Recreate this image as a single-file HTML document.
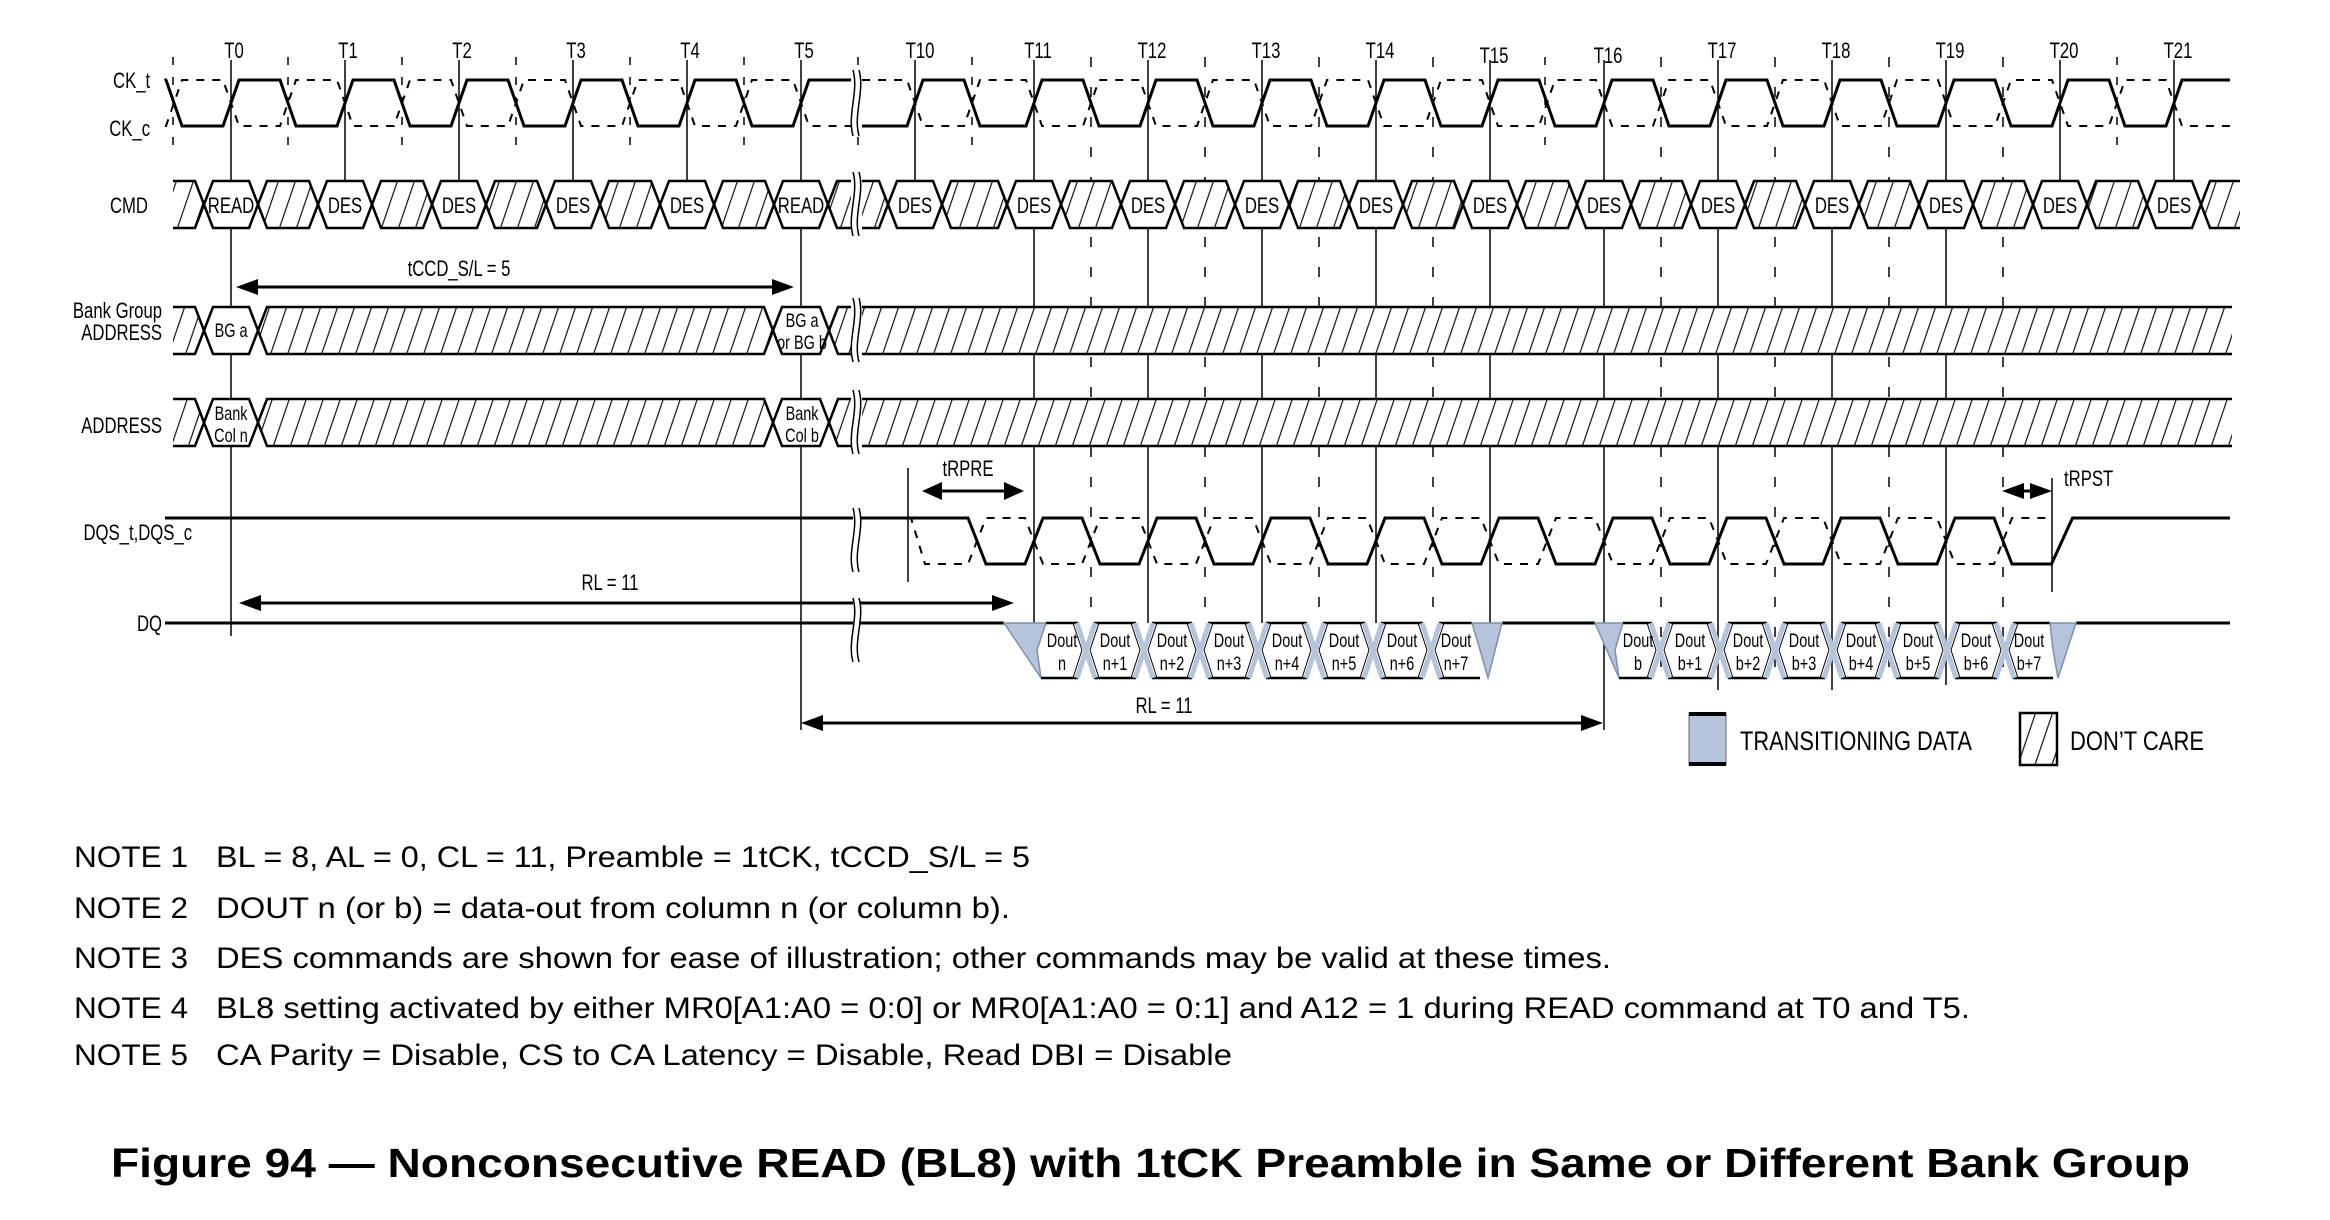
<!DOCTYPE html>
<html><head><meta charset="utf-8"><style>
html,body{margin:0;padding:0;background:#fff;}
svg{display:block;}
text{font-family:"Liberation Sans",Arial,sans-serif;fill:#000;}
.c{transform-box:fill-box;transform-origin:50% 50%;transform:scaleX(0.76);text-anchor:middle;font-size:22px;}
.r{transform-box:fill-box;transform-origin:100% 50%;transform:scaleX(0.76);text-anchor:end;font-size:22px;}
.l{transform-box:fill-box;transform-origin:0% 50%;transform:scaleX(0.76);text-anchor:start;font-size:22px;}
.s{font-size:19px;}
.n{font-size:30px;}
</style></head><body>
<svg id="svg" xmlns="http://www.w3.org/2000/svg" width="2330" height="1220" viewBox="0 0 2330 1220">
<defs>
<pattern id="h" patternUnits="userSpaceOnUse" width="17" height="50">
<rect x="0" y="0" width="17" height="50" fill="#fff"/>
<path d="M0,50 L17,0 M-17,50 L0,0 M17,50 L34,0" stroke="#222" stroke-width="1.3" fill="none"/>
</pattern>
</defs>
<rect width="2330" height="1220" fill="#fff"/>
<g id="g"></g>
<g id="txt">
<text class="c" x="234" y="58">T0</text>
<text class="c" x="348" y="58">T1</text>
<text class="c" x="462" y="58">T2</text>
<text class="c" x="576" y="58">T3</text>
<text class="c" x="690" y="58">T4</text>
<text class="c" x="804" y="58">T5</text>
<text class="c" x="920" y="58">T10</text>
<text class="c" x="1038" y="58">T11</text>
<text class="c" x="1152" y="58">T12</text>
<text class="c" x="1266" y="58">T13</text>
<text class="c" x="1380" y="58">T14</text>
<text class="c" x="1494" y="63">T15</text>
<text class="c" x="1608" y="63">T16</text>
<text class="c" x="1722" y="58">T17</text>
<text class="c" x="1836" y="58">T18</text>
<text class="c" x="1950" y="58">T19</text>
<text class="c" x="2064" y="58">T20</text>
<text class="c" x="2178" y="58">T21</text>
<text class="r" x="150" y="88">CK_t</text>
<text class="r" x="150" y="136">CK_c</text>
<text class="r" x="148" y="213">CMD</text>
<text class="r" x="162" y="318">Bank Group</text>
<text class="r" x="162" y="340">ADDRESS</text>
<text class="r" x="162" y="433">ADDRESS</text>
<text class="r" x="192" y="540">DQS_t,DQS_c</text>
<text class="r" x="162" y="631">DQ</text>
<text class="c" x="231" y="213">READ</text>
<text class="c" x="345" y="213">DES</text>
<text class="c" x="459" y="213">DES</text>
<text class="c" x="573" y="213">DES</text>
<text class="c" x="687" y="213">DES</text>
<text class="c" x="801" y="213">READ</text>
<text class="c" x="915" y="213">DES</text>
<text class="c" x="1034" y="213">DES</text>
<text class="c" x="1148" y="213">DES</text>
<text class="c" x="1262" y="213">DES</text>
<text class="c" x="1376" y="213">DES</text>
<text class="c" x="1490" y="213">DES</text>
<text class="c" x="1604" y="213">DES</text>
<text class="c" x="1718" y="213">DES</text>
<text class="c" x="1832" y="213">DES</text>
<text class="c" x="1946" y="213">DES</text>
<text class="c" x="2060" y="213">DES</text>
<text class="c" x="2174" y="213">DES</text>
<text class="c s" x="231" y="337">BG  a</text>
<text class="c s" x="802" y="327">BG  a</text>
<text class="c s" x="802" y="349">or BG b</text>
<text class="c s" x="231" y="420">Bank</text>
<text class="c s" x="231" y="442">Col n</text>
<text class="c s" x="802" y="420">Bank</text>
<text class="c s" x="802" y="442">Col b</text>
<text class="c" x="459" y="276">tCCD_S/L = 5</text>
<text class="c" x="610" y="590">RL = 11</text>
<text class="c" x="1164" y="713">RL = 11</text>
<text class="c" x="968" y="476">tRPRE</text>
<text class="l" x="2064" y="486">tRPST</text>
<text class="c s" x="1062" y="647">Dout</text><text class="c s" x="1062" y="670">n</text>
<text class="c s" x="1115" y="647">Dout</text><text class="c s" x="1115" y="670">n+1</text>
<text class="c s" x="1172" y="647">Dout</text><text class="c s" x="1172" y="670">n+2</text>
<text class="c s" x="1229" y="647">Dout</text><text class="c s" x="1229" y="670">n+3</text>
<text class="c s" x="1287" y="647">Dout</text><text class="c s" x="1287" y="670">n+4</text>
<text class="c s" x="1344" y="647">Dout</text><text class="c s" x="1344" y="670">n+5</text>
<text class="c s" x="1402" y="647">Dout</text><text class="c s" x="1402" y="670">n+6</text>
<text class="c s" x="1456" y="647">Dout</text><text class="c s" x="1456" y="670">n+7</text>
<text class="c s" x="1638" y="647">Dout</text><text class="c s" x="1638" y="670">b</text>
<text class="c s" x="1690" y="647">Dout</text><text class="c s" x="1690" y="670">b+1</text>
<text class="c s" x="1748" y="647">Dout</text><text class="c s" x="1748" y="670">b+2</text>
<text class="c s" x="1804" y="647">Dout</text><text class="c s" x="1804" y="670">b+3</text>
<text class="c s" x="1861" y="647">Dout</text><text class="c s" x="1861" y="670">b+4</text>
<text class="c s" x="1918" y="647">Dout</text><text class="c s" x="1918" y="670">b+5</text>
<text class="c s" x="1976" y="647">Dout</text><text class="c s" x="1976" y="670">b+6</text>
<text class="c s" x="2029" y="647">Dout</text><text class="c s" x="2029" y="670">b+7</text>
<text x="1740" y="750" font-size="27" textLength="232" lengthAdjust="spacingAndGlyphs">TRANSITIONING DATA</text>
<text x="2070" y="750" font-size="27" textLength="134" lengthAdjust="spacingAndGlyphs">DON’T CARE</text>
<text class="n" x="74" y="867" textLength="114" lengthAdjust="spacingAndGlyphs">NOTE 1</text>
<text class="n" x="216" y="867" textLength="814" lengthAdjust="spacingAndGlyphs">BL = 8, AL = 0, CL = 11, Preamble = 1tCK, tCCD_S/L = 5</text>
<text class="n" x="74" y="918" textLength="114" lengthAdjust="spacingAndGlyphs">NOTE 2</text>
<text class="n" x="216" y="918" textLength="794" lengthAdjust="spacingAndGlyphs">DOUT n (or b) = data-out from column n (or column b).</text>
<text class="n" x="74" y="968" textLength="114" lengthAdjust="spacingAndGlyphs">NOTE 3</text>
<text class="n" x="216" y="968" textLength="1395" lengthAdjust="spacingAndGlyphs">DES commands are shown for ease of illustration; other commands may be valid at these times.</text>
<text class="n" x="74" y="1018" textLength="114" lengthAdjust="spacingAndGlyphs">NOTE 4</text>
<text class="n" x="216" y="1018" textLength="1754" lengthAdjust="spacingAndGlyphs">BL8 setting activated by either MR0[A1:A0 = 0:0] or MR0[A1:A0 = 0:1] and A12 = 1 during READ command at T0 and T5.</text>
<text class="n" x="74" y="1065" textLength="114" lengthAdjust="spacingAndGlyphs">NOTE 5</text>
<text class="n" x="216" y="1065" textLength="1016" lengthAdjust="spacingAndGlyphs">CA Parity = Disable, CS to CA Latency = Disable, Read DBI = Disable</text>
<text x="111" y="1177" font-size="41" font-weight="bold" textLength="2079" lengthAdjust="spacingAndGlyphs">Figure 94 — Nonconsecutive READ (BL8) with 1tCK Preamble in Same or Different Bank Group</text>
</g>
</svg>
<script>
(function(){
var NS='http://www.w3.org/2000/svg';
var G=document.getElementById('g');
function el(t,a,p){var e=document.createElementNS(NS,t);for(var k in a)e.setAttribute(k,a[k]);(p||G).appendChild(e);return e;}
function T(k){if(k<=5)return 231+114*k;if(k==10)return 915;return 1034+114*(k-11);}
function line(x1,y1,x2,y2,sw,col,dash){var a={x1:x1,y1:y1,x2:x2,y2:y2,stroke:col||'#000','stroke-width':sw||1.5};if(dash)a['stroke-dasharray']=dash;return el('line',a);}
var lh=[173,288,402,516,630,744,858,972,1545,2117];
lh.forEach(function(x){line(x,57,x,155,1.5,'#000','8,12');});
[11,12,13,14].forEach(function(k){line(T(k)+57,57,T(k)+57,607,1.5,'#000','10,20');});
[16,17,18,19].forEach(function(k){line(T(k)+57,57,T(k)+57,673,1.5,'#000','10,20');});
var ext={0:636,1:181,2:181,3:181,4:181,5:730,10:181,11:623,12:623,13:623,14:623,15:623,16:730,17:690,18:690,19:685,20:181,21:181};
for(var k in ext){line(T(+k),60,T(+k),ext[k],1.5);}
line(908,468,908,582,1.5);
line(2052,478,2052,592,1.5);
function wave(x0,lev,tr,x1,hi,lo,w,attrs){var pts=[];var y=function(l){return l?hi:lo;};var cur=lev;pts.push(x0+','+y(cur));
 tr.forEach(function(t){var c=t[0],ww=t[1]||w;pts.push((c-ww/2)+','+y(cur));cur=!cur;pts.push((c+ww/2)+','+y(cur));});
 pts.push(x1+','+y(cur));var a={points:pts.join(' '),fill:'none',stroke:'#000','stroke-width':3,'stroke-linejoin':'miter'};for(var k in attrs)a[k]=attrs[k];el('polyline',a);}
var trL=[[174]];for(var k=0;k<=5;k++){trL.push([T(k)]);if(k<5)trL.push([T(k)+57]);}
var trR=[];for(var k=10;k<=21;k++){trR.push([T(k)]);if(k<21)trR.push([T(k)+57]);}
wave(167,1,trL,851,80,126,16);
wave(167,0,trL,851,80,126,16,{'stroke-dasharray':'8,8','stroke-width':2});
wave(862,0,trR,2230,80,126,16);
wave(862,1,trR,2230,80,126,16,{'stroke-dasharray':'8,8','stroke-width':2});
var dq=[[977]];for(var k=11;k<=19;k++){dq.push([T(k)]);dq.push([T(k)+57]);}
var dqs=dq.slice();dqs.push([2062,21]);
wave(165,1,dqs,2230,518,564,18);
var dqc=[[918,14]].concat(dq);
wave(908,1,dqc,2050,518,564,18,{'stroke-dasharray':'8,8','stroke-width':2});
function hex(a,b,top,bot,fill,lo,ro,d){d=d||9;var mid=(top+bot)/2,P=[];
 if(lo)P.push([a,top]);else P.push([a,mid],[a+d,top]);
 if(ro)P.push([b,top],[b,bot]);else P.push([b-d,top],[b,mid],[b-d,bot]);
 if(lo)P.push([a,bot]);else P.push([a+d,bot]);
 el('polygon',{points:P.map(function(p){return p.join(',');}).join(' '),fill:fill,stroke:'none'});
 el('polyline',{points:(lo?[[a,top],[b-(ro?0:d),top]]:[[a,mid],[a+d,top],[b-(ro?0:d),top]]).concat(ro?[]:[[b,mid]]).map(function(p){return p.join(',');}).join(' '),fill:'none',stroke:'#000','stroke-width':2.5});
 el('polyline',{points:(lo?[[a,bot],[b-(ro?0:d),bot]]:[[a,mid],[a+d,bot],[b-(ro?0:d),bot]]).concat(ro?[]:[[b,mid]]).map(function(p){return p.join(',');}).join(' '),fill:'none',stroke:'#000','stroke-width':2.5});
}
var H='url(#h)',W='#fff';
var t=181,b=228;
hex(173,T(0)-27,t,b,H,1,0);
for(var k=0;k<=5;k++){hex(T(k)-27,T(k)+27,t,b,W);if(k<5)hex(T(k)+27,T(k+1)-27,t,b,H);}
hex(T(5)+27,851,t,b,H,0,1);
hex(862,T(10)-27,t,b,H,1,0);
for(var k=10;k<=21;k++){hex(T(k)-27,T(k)+27,t,b,W);if(k<21)hex(T(k)+27,T(k==10?11:k+1)-27,t,b,H);}
hex(T(21)+27,2240,t,b,H,0,1);
[[307,354],[399,446]].forEach(function(r){var t=r[0],b=r[1];
 hex(173,T(0)-27,t,b,H,1,0);hex(T(0)-27,T(0)+27,t,b,W);hex(T(0)+27,T(5)-28,t,b,H);
 hex(T(5)-28,T(5)+28,t,b,W);hex(T(5)+28,851,t,b,H,0,1);hex(862,2232,t,b,H,1,1);});
line(165,623,1004,623,3);line(1502,623,1595,623,3);line(2076,623,2230,623,3);
var BL='#b5c4da',BD='#7f90ab';
function burst(start,cross,end){
 var s=start,e=end;
 el('polygon',{points:[[s[0],623],[s[1],623],[s[2],650],[s[3],678]].map(function(p){return p.join(',');}).join(' '),fill:BL,stroke:BD,'stroke-width':1.5});
 var edges=[s[1]].concat(cross).concat([e[0]]);
 for(var i=0;i<edges.length-1;i++){var a=edges[i]+(i==0?0:8),bb=edges[i+1]-(i==edges.length-2?0:8);
  line(a,623,bb,623,2.5);line(i==0?s[3]:a,678,i==edges.length-2?e[3]:bb,678,2.5);}
 cross.forEach(function(c){el('path',{d:'M'+(c-9)+',623 L'+(c+9)+',678 M'+(c-9)+',678 L'+(c+9)+',623',stroke:BL,'stroke-width':5,fill:'none'});
  el('path',{d:'M'+(c-13)+',623 L'+(c-4)+',650 L'+(c-13)+',678 M'+(c+13)+',623 L'+(c+4)+',650 L'+(c+13)+',678',stroke:'#000','stroke-width':1,fill:'none'});});
 el('polygon',{points:[[e[0],623],[e[1],623],[e[2],678],[e[3],650]].map(function(p){return p.join(',');}).join(' '),fill:BL,stroke:BD,'stroke-width':1.5});
}
burst([1004,1046,1037,1041],[1086,1144,1200,1258,1315,1373,1431],[1472,1502,1488,1480]);
burst([1595,1623,1615,1619],[1660,1720,1775,1833,1888,1947,2005],[2050,2076,2058,2053]);
function arrow(x1,x2,y,L,hh){L=L||22;hh=hh||8;line(x1+L/2,y,x2-L/2,y,3);
 el('polygon',{points:x1+','+y+' '+(x1+L)+','+(y-hh)+' '+(x1+L)+','+(y+hh),fill:'#000'});
 el('polygon',{points:x2+','+y+' '+(x2-L)+','+(y-hh)+' '+(x2-L)+','+(y+hh),fill:'#000'});}
arrow(236,794,287);
arrow(239,1014,603);
arrow(801,1603,723);
arrow(922,1024,491,20,9);
arrow(2002,2052,491,22,8);
function brk(x,y0,y1){el('rect',{x:x-3,y:y0,width:7,height:y1-y0,fill:'#fff'});var h=y1-y0;
 [x-3,x+3].forEach(function(xx){el('path',{d:'M'+xx+','+y0+' C'+(xx+6)+','+(y0+h/3)+' '+(xx-6)+','+(y0+2*h/3)+' '+xx+','+y1,fill:'none',stroke:'#000','stroke-width':1.5});});}
brk(856,70,136);brk(856,172,236);brk(856,298,362);brk(856,390,454);brk(856,508,572);brk(856,598,662);
el('rect',{x:1689,y:713,width:37,height:52,fill:BL,stroke:'#666','stroke-width':1});
line(1689,714,1726,714,4);line(1689,764,1726,764,4);
el('rect',{x:2020,y:713,width:37,height:52,fill:H,stroke:'#000','stroke-width':2.5});
})();
</script>
</body></html>
